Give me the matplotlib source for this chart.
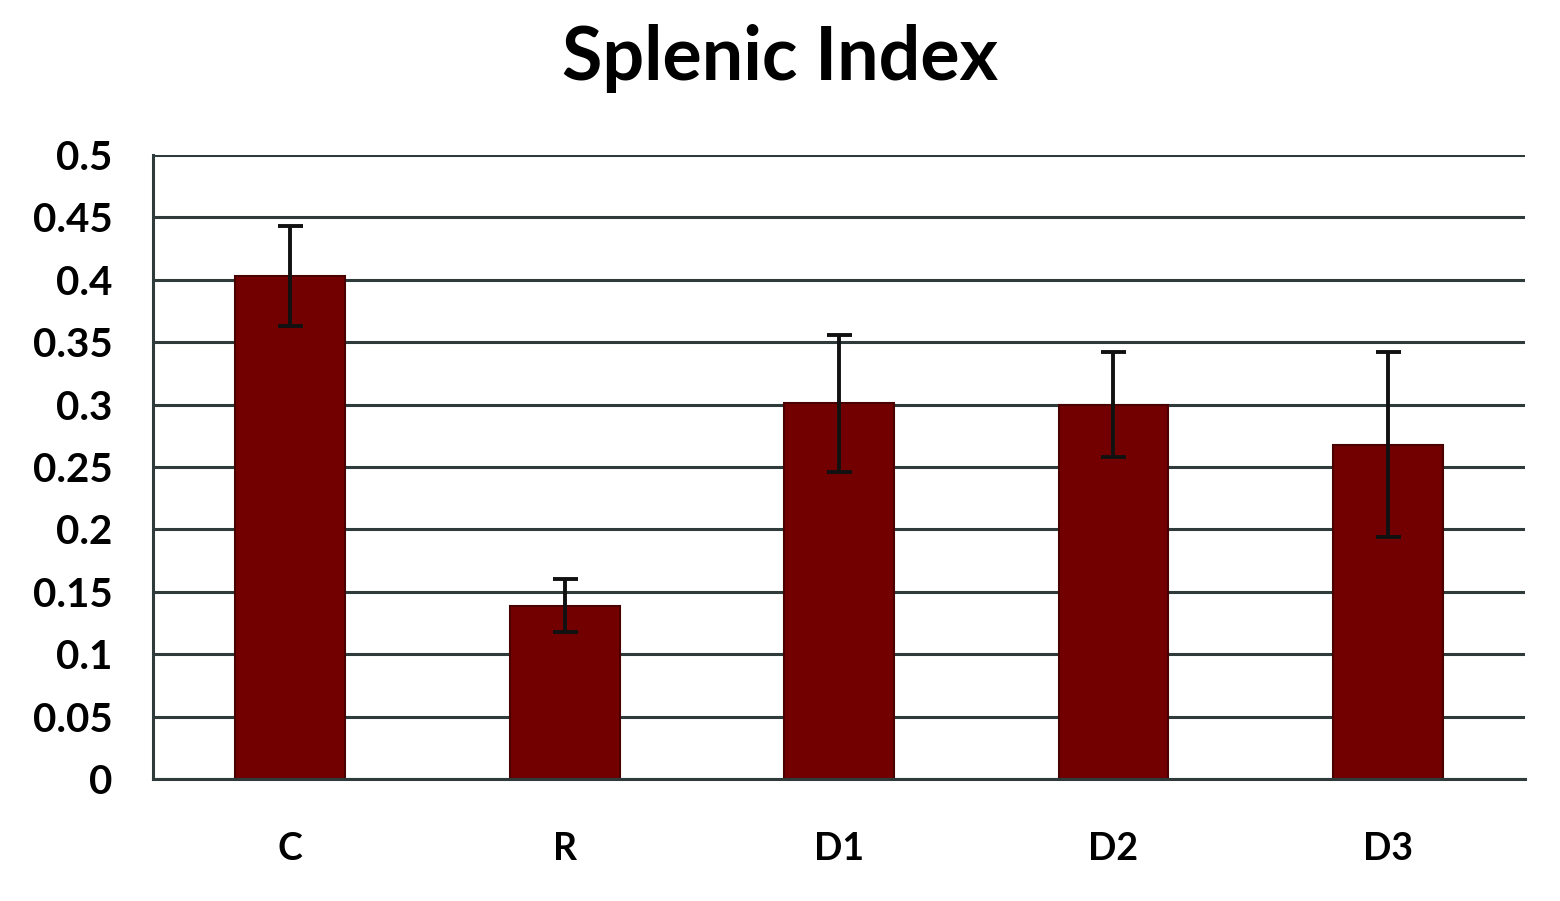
import matplotlib
matplotlib.use("Agg")
import matplotlib.pyplot as plt

categories = ["C", "R", "D1", "D2", "D3"]
values = [0.403, 0.139, 0.301, 0.300, 0.268]
errors = [0.040, 0.021, 0.055, 0.042, 0.074]
yticks = [0, 0.05, 0.1, 0.15, 0.2, 0.25, 0.3, 0.35, 0.4, 0.45, 0.5]
ytick_labels = ["0", "0.05", "0.1", "0.15", "0.2", "0.25", "0.3", "0.35", "0.4", "0.45", "0.5"]

plt.rcParams['font.family'] = ['Lato', 'DejaVu Sans']

fig = plt.figure(figsize=(15.6, 9.01), dpi=100)
ax = fig.add_axes([0.0981, 0.1354, 0.8795, 0.6926])

x = list(range(len(categories)))
ax.bar(x, values, width=0.40, color="#720000", edgecolor="#4a0000", linewidth=1.5, zorder=2)
ax.errorbar(x, values, yerr=errors, fmt="none", ecolor="#111111", elinewidth=2.8,
            capsize=9, capthick=2.8, zorder=3)

ax.set_xlim(-0.5, 4.5)
ax.set_ylim(0, 0.5)
ax.set_yticks(yticks)
ax.set_yticklabels(ytick_labels, fontsize=29, fontweight="bold")
ax.set_xticks(x)
ax.set_xticklabels(categories, fontsize=27, fontweight="bold")
ax.tick_params(axis="y", length=0, pad=29)
ax.tick_params(axis="x", length=0, pad=38)
ax.yaxis.grid(True, color="#2f3b3b", linewidth=2.2, zorder=0)
ax.set_axisbelow(True)
for s in ["top", "right"]:
    ax.spines[s].set_visible(False)
ax.spines["left"].set_color("#2f3b3b")
ax.spines["left"].set_linewidth(2.2)
ax.spines["bottom"].set_color("#2f3b3b")
ax.spines["bottom"].set_linewidth(2.2)

fig.text(0.5, 0.935, "Splenic Index", ha="center", va="center", fontsize=53, fontweight="bold")

fig.savefig("out.png", dpi=100)
